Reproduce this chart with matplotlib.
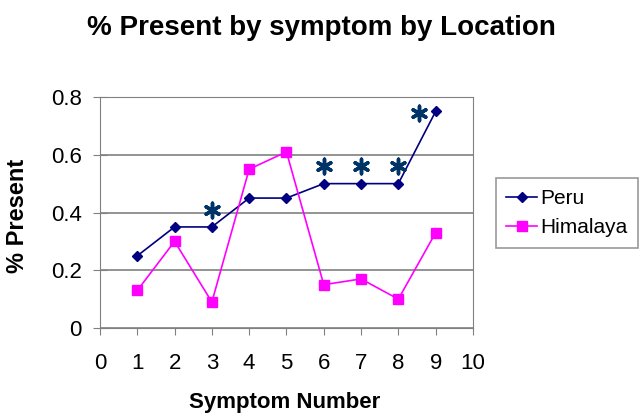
import matplotlib
matplotlib.use("Agg")
import matplotlib.pyplot as plt

plt.rcParams['font.family'] = ['Liberation Sans', 'DejaVu Sans']

symptom = [1, 2, 3, 4, 5, 6, 7, 8, 9]
peru = [0.25, 0.35, 0.35, 0.45, 0.45, 0.50, 0.50, 0.50, 0.75]
himalaya = [0.13, 0.30, 0.09, 0.55, 0.61, 0.15, 0.17, 0.10, 0.33]

# significance asterisks
star_x = [3, 6, 7, 8, 8.55]
star_y = [0.41, 0.56, 0.56, 0.56, 0.745]

fig = plt.figure(figsize=(6.43, 4.17), dpi=100)
ax = fig.add_axes([0.1555, 0.2134, 0.58, 0.554])

ax.plot(symptom, peru, color='#000080', marker='D', markersize=5, lw=1.2, label='Peru')
ax.plot(symptom, himalaya, color='#FF00FF', marker='s', markersize=6.5, lw=1.2, label='Himalaya')
ax.scatter(star_x, star_y, marker=(6, 2, 0), s=110, color='#003366', linewidths=2.5, zorder=5)

ax.set_xlim(0, 10)
ax.set_ylim(0, 0.8)
ax.set_xticks(range(0, 11))
ax.set_yticks([0, 0.2, 0.4, 0.6, 0.8])
ax.set_yticklabels(['0', '0.2', '0.4', '0.6', '0.8'])
ax.yaxis.grid(True, color='#808080', lw=1.2)
ax.set_axisbelow(True)
for s in ax.spines.values():
    s.set_color('#808080')
ax.tick_params(axis='both', colors='#808080', labelcolor='black', labelsize=16)
ax.tick_params(axis='x', length=5, pad=13)
ax.tick_params(axis='y', direction='inout', length=10, pad=8)

ax.set_xlabel('Symptom Number', fontsize=16, fontweight='bold')
ax.xaxis.set_label_coords(0.495, -0.275)
ax.set_ylabel('% Present', fontsize=17, fontweight='bold')
ax.yaxis.set_label_coords(-0.19, 0.485)
fig.text(0.5, 0.916, '% Present by symptom by Location', fontsize=20, fontweight='bold',
         ha='center', va='baseline')

leg = fig.legend(loc='center', bbox_to_anchor=(0.8818, 0.489), fontsize=15, frameon=True,
                 fancybox=False, edgecolor='#808080', handlelength=1.5, handletextpad=0.15,
                 borderpad=0.5)
leg.get_frame().set_linewidth(1.2)

fig.savefig('out.png', dpi=100)
